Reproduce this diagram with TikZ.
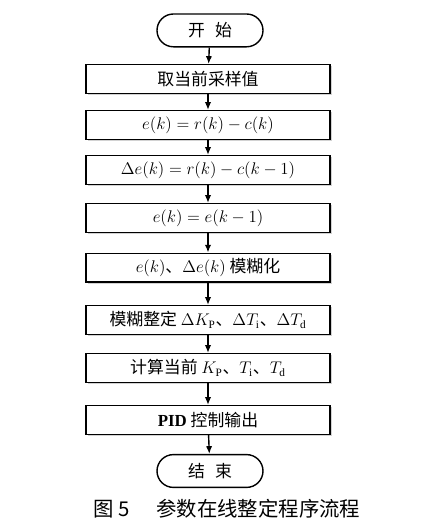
\documentclass[tikz,border=0pt]{standalone}
\usepackage{amsmath}
\usepackage{fontspec}
\setmainfont{Liberation Serif}
\newfontfamily\cjk{Noto Sans CJK SC}
\usepackage{tikz}
\usetikzlibrary{arrows.meta,shapes,shadows,positioning}

\tikzset{
  procbox/.style={draw, line width=1pt, rectangle, minimum width=6.1cm, minimum height=0.72cm,
    inner sep=0pt, fill=white, drop shadow={shadow xshift=1.3pt, shadow yshift=-1.3pt, fill=gray!70},
    font=\fontsize{12}{14}\selectfont\cjk},
  termbox/.style={draw, line width=1pt, rounded rectangle, minimum width=2.65cm, minimum height=0.82cm,
    inner sep=0pt, fill=white, font=\fontsize{12}{14}\selectfont\cjk},
  flow/.style={-{Latex[length=5.5pt,width=4.5pt]}, line width=1pt}
}

\begin{document}
\begin{tikzpicture}
        \useasboundingbox (0,0) rectangle (10.7,-13.1);

        \node[termbox] (start) at (5.25,-0.76) {开\hspace{0.6em}始};

        \node[procbox] (sample) at (5.2,-1.975) {取当前采样值};
        \node[procbox] (err) at (5.2,-3.125) {$e(k)=r(k)-c(k)$};
        \node[procbox] (derr) at (5.2,-4.25) {$\Delta e(k)=r(k)-c(k-1)$};
        \node[procbox] (prev) at (5.2,-5.45) {$e(k)=e(k-1)$};
        \node[procbox] (fuzz) at (5.2,-6.69) {$e(k)$、$\Delta e(k)$ 模糊化};
        \node[procbox] (tune) at (5.2,-8.0) {模糊整定 $\Delta K_\mathrm{P}$、$\Delta T_\mathrm{i}$、$\Delta T_\mathrm{d}$};
        \node[procbox] (calc) at (5.2,-9.2) {计算当前 $K_\mathrm{P}$、$T_\mathrm{i}$、$T_\mathrm{d}$};
        \node[procbox] (out) at (5.2,-10.5) {{\rmfamily\bfseries PID} 控制输出};

        \node[termbox] (stop) at (5.25,-11.775) {结\hspace{0.6em}束};

        \node[font=\fontsize{14.5}{16}\selectfont\cjk] (cap) at (5.675,-12.72) {图 5\hspace{1.3em}参数在线整定程序流程};

        \draw[flow] (start) to (sample);
        \draw[flow] (sample) to (err);
        \draw[flow] (err) to (derr);
        \draw[flow] (derr) to (prev);
        \draw[flow] (prev) to (fuzz);
        \draw[flow] (fuzz) to (tune);
        \draw[flow] (tune) to (calc);
        \draw[flow] (calc) to (out);
        \draw[flow] (out) to (stop);
\end{tikzpicture}
\end{document}
